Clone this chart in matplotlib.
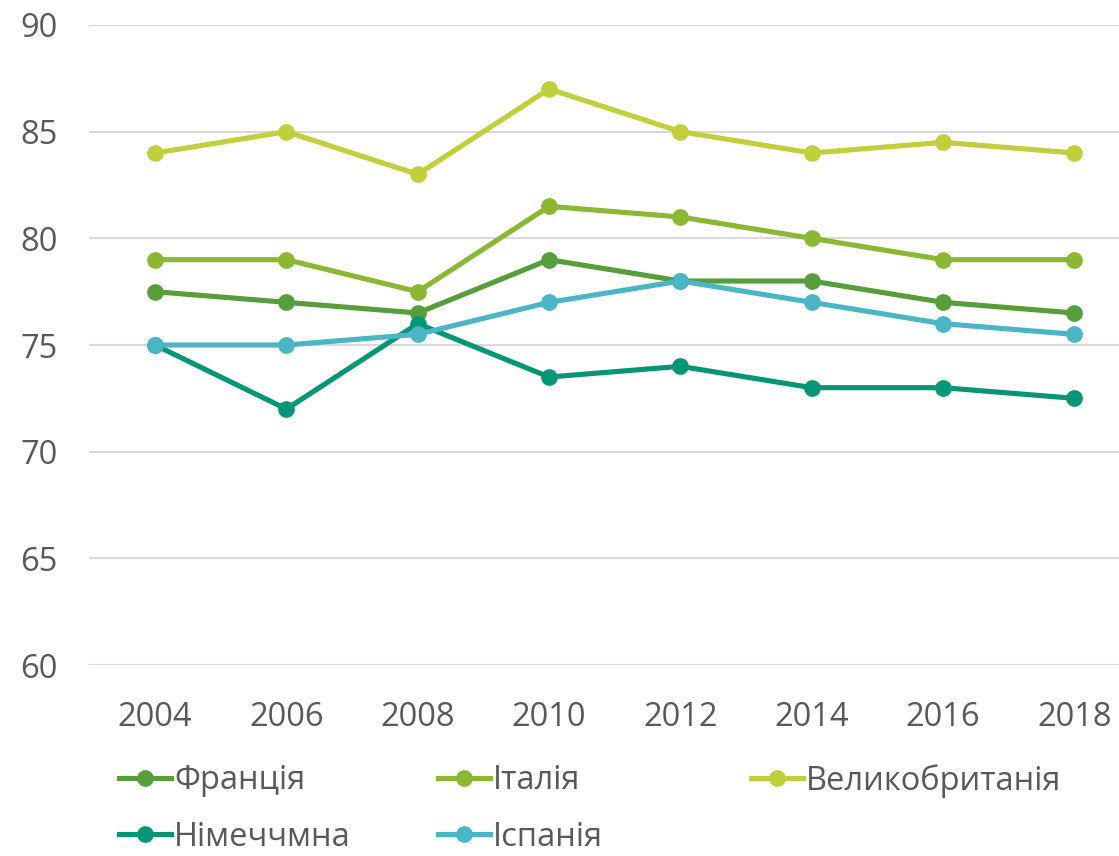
import matplotlib.pyplot as plt
from matplotlib.lines import Line2D

plt.rcParams['font.family'] = ['Open Sans', 'DejaVu Sans']

# Дані
years = ['2004', '2006', '2008', '2010', '2012', '2014', '2016', '2018']
france = [77.5, 77, 76.5, 79, 78, 78, 77, 76.5]
italy = [79, 79, 77.5, 81.5, 81, 80, 79, 79]
uk = [84, 85, 83, 87, 85, 84, 84.5, 84]
germany = [75, 72, 76, 73.5, 74, 73, 73, 72.5]
spain = [75, 75, 75.5, 77, 78, 77, 76, 75.5]

names = ['Франція', 'Італія', 'Великобританія', 'Німеччмна', 'Іспанія']
series = [france, italy, uk, germany, spain]
colors = ['#559E3A', '#8AB833', '#C0CF3A', '#029676', '#4AB5C4']

txt = '#595959'
fs = 23.5
lw = 3.7
ms = 11

fig = plt.figure(figsize=(11.19, 8.56), dpi=100)
ax = fig.add_axes([0.0799, 0.2231, 0.939, 0.7477])

x = list(range(len(years)))
for vals, col, name in zip(series, colors, names):
    ax.plot(x, vals, '-o', color=col, lw=lw, ms=ms, label=name,
            solid_capstyle='round', zorder=3)

ax.set_xlim(-0.5, len(years) - 0.5)
ax.set_ylim(60, 90)
ax.set_yticks([60, 65, 70, 75, 80, 85, 90])
ax.set_xticks(x)
ax.set_xticklabels(years)
ax.grid(axis='y', color='#D9D9D9', lw=1.5, zorder=0)
ax.tick_params(axis='both', length=0, labelsize=fs, colors=txt)
ax.tick_params(axis='y', pad=23)
ax.tick_params(axis='x', pad=26)
for s in ax.spines.values():
    s.set_visible(False)

# Легенда: окремі записи, щоб поставити їх як в оригіналі
pos = [(0.106, 0.088), (0.391, 0.088), (0.671, 0.088),
       (0.106, 0.022), (0.391, 0.022)]
for (px, py), col, name in zip(pos, colors, names):
    h = Line2D([0], [0], color=col, lw=lw, marker='o', ms=ms)
    fig.legend([h], [name], loc='center left', bbox_to_anchor=(px, py),
               frameon=False, fontsize=fs, labelcolor=txt,
               handlelength=1.6, handletextpad=0.1, borderpad=0,
               borderaxespad=0)

fig.savefig('out.png', dpi=100)
